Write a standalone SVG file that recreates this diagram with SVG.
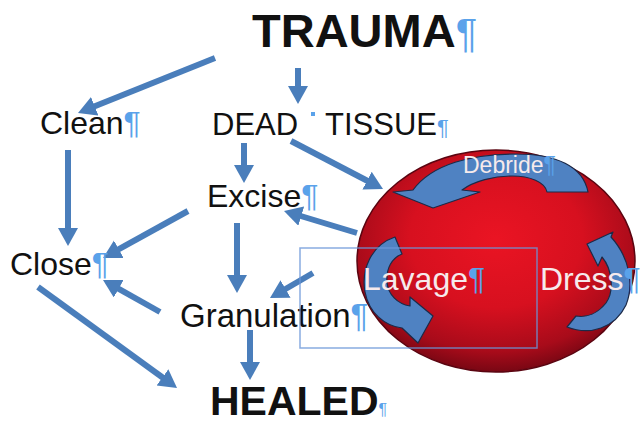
<svg xmlns="http://www.w3.org/2000/svg" width="640" height="425" viewBox="0 0 640 425">
<defs>
<radialGradient id="redball" cx="0.5" cy="0.4" r="0.62">
<stop offset="0" stop-color="#ea1423"/>
<stop offset="0.5" stop-color="#d7101f"/>
<stop offset="0.82" stop-color="#a80b1a"/>
<stop offset="1" stop-color="#6e0612"/>
</radialGradient>
<marker id="ah" markerUnits="userSpaceOnUse" markerWidth="20" markerHeight="22" refX="4" refY="10" orient="auto">
<path d="M0,0 L18,10 L0,20 z" fill="#4a7ebb"/>
</marker>
</defs>
<style>
.t{font-family:"Liberation Sans",Arial,sans-serif;fill:#111;}
.b{font-weight:bold;}
.p{fill:#5aa2ea;font-family:"Liberation Sans",Arial,sans-serif;}
.w{font-family:"Liberation Sans",Arial,sans-serif;fill:#f6eaec;}
.c{stroke:#4a7ebb;stroke-width:6;fill:none;marker-end:url(#ah);}
.ca{fill:#4f82c2;stroke:#1c2a48;stroke-width:1.2;stroke-linejoin:round;}
</style>
<rect width="640" height="425" fill="#ffffff"/>

<g id="cycle">
<ellipse cx="496" cy="261" rx="139" ry="111" fill="url(#redball)" stroke="#5a0410" stroke-width="1.5"/>
<path class="ca" d="M588,192 C583,166 556,154 516,154 C472,154 432,164 413,190 L393,192 L433,208 L480,192 L462,190 C474,181 494,176 512,176 C530,176 545,182 547,192 Z"/>
<path class="ca" d="M395,237 C371,245 361,270 365,292 C369,313 385,326 402,328 L418,343 L433,316 L410,297 L410,306 C398,304 388,295 387,282 C386,268 392,258 402,254 Z"/>
<path class="ca" d="M567,327 C590,336 615,328 626,305 C634,285 630,258 611,237 L613,232 L587,244 L598,266 L602,257 C613,270 614,292 606,303 C598,313 587,318 576,316 Z"/>
<text class="w" x="463" y="173" font-size="23">Debride<tspan class="p">¶</tspan></text>
<text class="w" x="363" y="290" font-size="32">Lavage<tspan class="p" fill="#7fa6e0">¶</tspan></text>
<text class="w" x="540" y="290" font-size="32">Dress<tspan class="p">¶</tspan></text>
</g>

<g id="connectors">
<line class="c" x1="215" y1="58" x2="91" y2="107.8"/>
<line class="c" x1="298" y1="68" x2="298" y2="90"/>
<line class="c" x1="68" y1="150" x2="68" y2="232"/>
<line class="c" x1="244" y1="143" x2="244" y2="169"/>
<line class="c" x1="291" y1="141" x2="370.6" y2="182.5"/>
<line class="c" x1="188" y1="211" x2="115.3" y2="251.2"/>
<line class="c" x1="357" y1="233" x2="297.4" y2="215"/>
<line class="c" x1="237" y1="223" x2="237" y2="279"/>
<line class="c" x1="313" y1="273" x2="282.1" y2="291"/>
<line class="c" x1="160" y1="312" x2="115.2" y2="286.8"/>
<line class="c" x1="38" y1="287" x2="165.7" y2="379.8"/>
<line class="c" x1="250" y1="330" x2="250" y2="366"/>
</g>

<g id="trauma"><text class="t b" x="252" y="47" font-size="47">TRAUMA<tspan class="p" font-weight="normal" font-size="40">¶</tspan></text></g>
<g id="clean"><text class="t" x="40" y="134" font-size="32">Clean<tspan class="p">¶</tspan></text></g>
<g id="dead-tissue"><text class="t" x="212" y="135" font-size="31">DEAD<tspan x="325">TISSUE</tspan><tspan class="p" font-size="22">¶</tspan></text><rect x="311" y="112" width="4" height="4" fill="#5aa2ea"/></g>
<g id="excise"><text class="t" x="207" y="207" font-size="32">Excise<tspan class="p">¶</tspan></text></g>
<g id="close"><text class="t" x="10" y="275" font-size="32">Close<tspan class="p">¶</tspan></text></g>
<g id="granulation"><text class="t" x="180" y="327" font-size="33">Granulation<tspan class="p">¶</tspan></text></g>
<g id="healed"><text class="t b" x="210" y="415" font-size="41">HEALED<tspan class="p" font-weight="normal" font-size="16">¶</tspan></text></g>

<rect x="300" y="248" width="237" height="100" fill="none" stroke="#6a96d8" stroke-width="1.5" stroke-opacity="0.8"/>
</svg>
